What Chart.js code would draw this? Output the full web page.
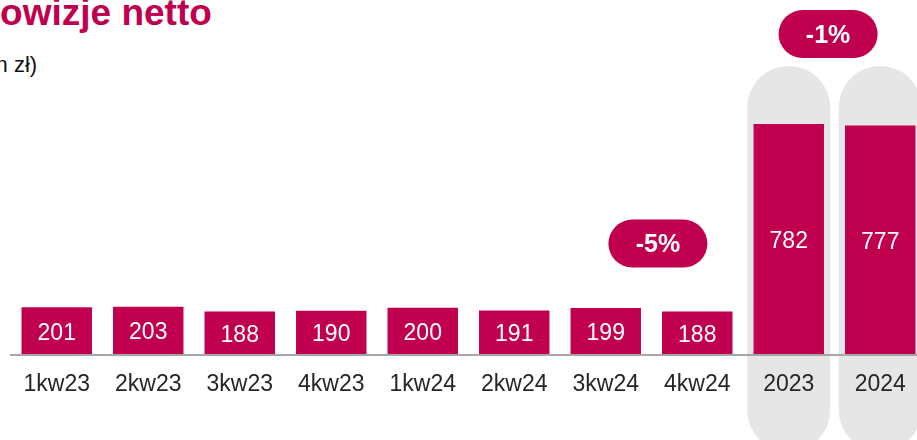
<!DOCTYPE html>
<html>
<head>
<meta charset="utf-8">
<script src="https://cdn.jsdelivr.net/npm/chart.js@4.4.1/dist/chart.umd.min.js"></script>
<style>
    html, body { margin: 0; padding: 0; background: #fff; overflow: hidden; }
    body { width: 917px; height: 440px; position: relative; font-family: "Liberation Sans", Arial, sans-serif; }
    #chart { position: absolute; left: 0; top: 0; }
    .title { position: absolute; left: -39px; top: -6px; font-size: 37px; line-height: 37px; font-weight: bold; color: #c0004e; white-space: nowrap; }
    .subtitle { position: absolute; left: -35px; top: 54px; font-size: 22px; line-height: 22px; color: #111; white-space: nowrap; }
</style>
</head>
<body>
<div class="title">Prowizje netto</div>
<div class="subtitle">(mln zł)</div>
<canvas id="chart" width="930" height="440"></canvas>
<script>
const categories = ['1kw23', '2kw23', '3kw23', '4kw23', '1kw24', '2kw24', '3kw24', '4kw24', '2023', '2024'];
const values = [201, 203, 188, 190, 200, 191, 199, 188, 782, 777];
const yearCategories = ['2023', '2024'];
const changeLabels = ['-5%', '-1%'];

const crimson = '#c0004e';
const fontFamily = '"Liberation Sans", Arial, sans-serif';

// grey rounded columns behind the yearly bars
const yearBackdrop = {
    id: 'yearBackdrop',
    beforeDraw(chart) {
        const {ctx, scales: {x, y}} = chart;
        const w = 83;
        const top = y.getPixelForValue(966);
        const bottom = y.getPixelForValue(-256);
        ctx.save();
        ctx.fillStyle = '#e6e6e6';
        yearCategories.forEach((cat) => {
            const cx = x.getPixelForValue(categories.indexOf(cat));
            ctx.beginPath();
            ctx.roundRect(cx - w / 2, top, w, bottom - top, w / 2);
            ctx.fill();
        });
        ctx.restore();
    },
};

// numbers inside bars + change pills
const barLabels = {
    id: 'barLabels',
    afterDatasetsDraw(chart) {
        const {ctx, scales: {x, y}} = chart;
        const meta = chart.getDatasetMeta(0);
        const floor = chart.chartArea.bottom - 1;
        ctx.save();
        ctx.fillStyle = '#fff';
        ctx.font = '23px ' + fontFamily;
        ctx.textAlign = 'center';
        ctx.textBaseline = 'middle';
        meta.data.forEach((bar, i) => {
            ctx.fillText(String(values[i]), bar.x, (bar.y + floor) / 2 + 2.5);
        });

        // pill positions (category index, value)
        const spots = [[6.57, 403], [8.43, 1067]];
        changeLabels.forEach((label, i) => {
            const cx = x.getPixelForValue(spots[i][0]);
            const cy = y.getPixelForValue(spots[i][1]);
            const w = 99, h = 48;
            ctx.fillStyle = crimson;
            ctx.beginPath();
            ctx.roundRect(cx - w / 2, cy - h / 2, w, h, h / 2);
            ctx.fill();
            ctx.fillStyle = '#fff';
            ctx.font = 'bold 25px ' + fontFamily;
            ctx.fillText(label, cx, cy + 2);
        });
        ctx.restore();
    },
};

Chart.defaults.font.family = fontFamily;

new Chart(document.getElementById('chart'), {
    type: 'bar',
    data: {
        labels: categories,
        datasets: [
            {
                data: values,
                backgroundColor: crimson,
                categoryPercentage: 1,
                barPercentage: 0.77,
            },
        ],
    },
    options: {
        responsive: false,
        animation: false,
        layout: {
            padding: {left: 11, right: 4, top: 0, bottom: 0},
        },
        plugins: {
            legend: {display: false},
            tooltip: {enabled: false},
        },
        scales: {
            x: {
                grid: {display: false, drawTicks: false},
                border: {display: true, color: '#a6a6a6', width: 2, z: 1},
                ticks: {
                    color: '#262626',
                    font: {size: 23, lineHeight: 1.2},
                    padding: 16,
                    maxRotation: 0,
                    autoSkip: false,
                },
                afterFit: (scale) => {
                    scale.height = 85;
                },
            },
            y: {
                display: false,
                min: 50,
                max: 1175,
            },
        },
    },
    plugins: [yearBackdrop, barLabels],
});
</script>
</body>
</html>
